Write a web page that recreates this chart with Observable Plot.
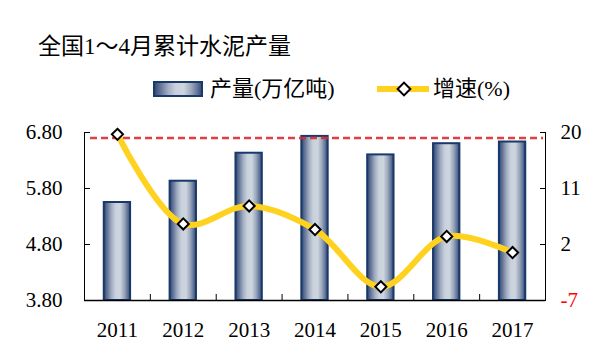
<!DOCTYPE html>
<html>
<head>
<meta charset="utf-8">
<script src="https://cdn.jsdelivr.net/npm/d3@7"></script>
<script src="https://cdn.jsdelivr.net/npm/@observablehq/plot@0.6"></script>
<style>
  html, body { margin: 0; padding: 0; background: #fff; }
  #wrap { width: 589px; height: 354px; overflow: hidden; background: #fff; }
  .hdr text { font-family: "Liberation Serif", "Noto Sans CJK SC", serif; fill: #000; }
</style>
</head>
<body>
<div id="wrap">
<svg class="hdr" width="589" height="105" style="display:block">
  <defs>
    <linearGradient id="barGrad" x1="0" y1="0" x2="1" y2="0">
      <stop offset="0" stop-color="#2F4570"/>
      <stop offset="0.14" stop-color="#66769A"/>
      <stop offset="0.3" stop-color="#A3AFC2"/>
      <stop offset="0.45" stop-color="#C9D1DC"/>
      <stop offset="0.62" stop-color="#CDD5DF"/>
      <stop offset="0.78" stop-color="#9AA7BB"/>
      <stop offset="0.9" stop-color="#65759A"/>
      <stop offset="1" stop-color="#33486F"/>
    </linearGradient>
  </defs>
  <text x="38" y="54" font-size="23">全国1～4月累计水泥产量</text>
  <rect x="154" y="82" width="48" height="14" fill="url(#barGrad)" stroke="#173A6A" stroke-width="2"/>
  <text x="210" y="96" font-size="22">产量(万亿吨)</text>
  <line x1="377" y1="89" x2="429" y2="89" stroke="#FFD21F" stroke-width="6"/>
  <rect x="399.5" y="84.5" width="9" height="9" fill="#fff" stroke="#000" stroke-width="2" transform="rotate(45 404 89)"/>
  <text x="433" y="96" font-size="22">增速(%)</text>
</svg>
<div id="chart"></div>
</div>
<script>
// ---- data ----
const years = [2011, 2012, 2013, 2014, 2015, 2016, 2017];
const output = [5.55, 5.93, 6.43, 6.73, 6.40, 6.60, 6.63];   // 产量(万亿吨)
const growth = [19.7, 5.3, 8.2, 4.4, -4.8, 3.3, 0.7];       // 增速(%)
const leftTicks = [3.80, 4.80, 5.80, 6.80];
const rightTicks = [-7, 2, 11, 20];
const refValue = 6.70;

const leftDomain = [3.80, 6.80];
const rightDomain = [-7, 20];
const toLeft = d3.scaleLinear(rightDomain, leftDomain);

const data = years.map((year, i) => ({year, output: output[i], growth: growth[i]}));
const xDomain = [years[0] - 0.5, years[years.length - 1] + 0.5];
const boundaries = years.slice(1).map(y => y - 0.5);
const halfBar = 0.2;

const plot = Plot.plot({
  width: 589,
  height: 249,
  marginLeft: 84,
  marginRight: 44,
  marginTop: 27,
  marginBottom: 54,
  style: {fontFamily: "'Liberation Serif', 'Times New Roman', serif", fontSize: "21px", color: "#000", background: "#fff", overflow: "visible"},
  x: {domain: xDomain, axis: null},
  y: {domain: leftDomain, axis: null},
  marks: [
    Plot.rect(data, {x1: d => d.year - halfBar, x2: d => d.year + halfBar, y1: leftDomain[0], y2: "output",
      fill: "url(#barGrad)", stroke: "#173A6A", strokeWidth: 2}),
    Plot.ruleY([refValue], {stroke: "#DD2A30", strokeWidth: 2.5, strokeDasharray: "7,4", insetLeft: 6, insetRight: 2, strokeOpacity: 0.9}),
    Plot.line(data, {x: "year", y: d => toLeft(d.growth), curve: "catmull-rom", stroke: "#FFD21F", strokeWidth: 6}),
    Plot.dot(data, {x: "year", y: d => toLeft(d.growth), symbol: "diamond2", r: 5, fill: "#fff", stroke: "#000", strokeWidth: 2}),
    // left axis
    Plot.axisY(leftTicks, {anchor: "left", label: null, tickSize: -6, tickFormat: () => ""}),
    Plot.axisY(leftTicks, {anchor: "left", label: null, tickSize: 0, tickPadding: 22, tickFormat: d => d.toFixed(2)}),
    // right axis
    Plot.axisY(rightTicks.map(toLeft), {anchor: "right", label: null, tickSize: -6, tickFormat: () => ""}),
    Plot.text(rightTicks, {x: xDomain[1], y: d => toLeft(d), text: d => String(d), dx: 15, textAnchor: "start",
      fill: d => d < 0 ? "#FF0000" : "#000"}),
    // bottom axis
    Plot.axisX(boundaries, {anchor: "bottom", label: null, tickSize: -6, tickFormat: () => ""}),
    Plot.axisX(years, {anchor: "bottom", label: null, tickSize: 0, tickPadding: 22, tickFormat: d => String(d)}),
    // axis lines on top
    Plot.ruleX([xDomain[0]], {stroke: "#000", strokeWidth: 1}),
    Plot.ruleX([xDomain[1]], {stroke: "#000", strokeWidth: 1}),
    Plot.ruleY([leftDomain[0]], {stroke: "#000", strokeWidth: 1.5})
  ]
});
document.getElementById("chart").appendChild(plot);
</script>
</body>
</html>
